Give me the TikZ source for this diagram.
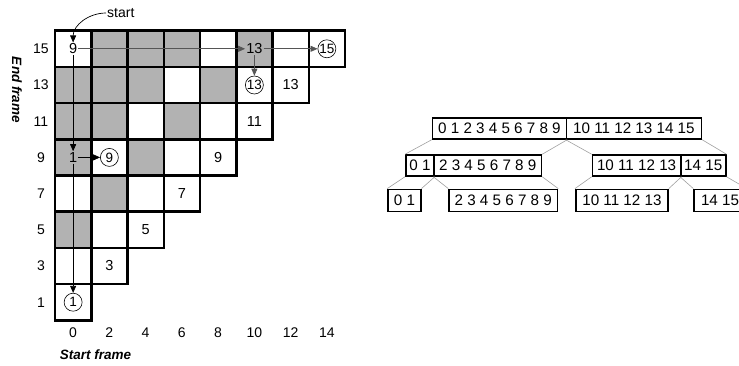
\documentclass[tikz,border=0pt]{standalone}
\usepackage{fontspec}
\setmainfont{Liberation Sans}
\usetikzlibrary{arrows.meta}
\definecolor{cellgray}{RGB}{178,178,178}
\definecolor{arrgray}{RGB}{85,85,85}
\definecolor{linkgray}{RGB}{160,160,160}
\begin{document}
\begin{tikzpicture}[x=1pt,y=-1pt,
  cell/.style={draw, line width=2.5pt, minimum width=36.25pt, minimum height=36.2pt, inner sep=0pt},
  num/.style={font=\fontsize{14.5}{16}\selectfont, inner sep=1pt},
  circ/.style={font=\fontsize{13.5}{15}\selectfont, draw, circle, line width=0.6pt, minimum size=18pt, inner sep=0pt},
  arr/.style={-{Triangle[length=7pt,width=6pt]}, line width=0.7pt},
  lbl/.style={font=\fontsize{14}{16}\selectfont},
  axislbl/.style={font=\fontsize{13.5}{15}\selectfont\bfseries\itshape},
  seg/.style={draw, line width=1.5pt, inner sep=0pt, anchor=west, font=\fontsize{15.2}{17}\selectfont},
  link/.style={draw=linkgray, line width=0.6pt}
]
\useasboundingbox (0,0) rectangle (739,365);

% shaded cells
\foreach \c/\r in {1/0,2/0,3/0,5/0,0/1,1/1,2/1,4/1,0/2,1/2,3/2,0/3,2/3,1/4,0/5}{
  \fill[cellgray] ({55+36.25*\c},{30.7+36.2*\r}) rectangle ++(36.25,36.2);
}
% cell grid
\foreach \r in {0,...,7}{
  \pgfmathtruncatemacro\cmax{7-\r}
  \foreach \c in {0,...,\cmax}{
    \node[cell] (cell-\c-\r) at ({55+36.25*(\c+0.5)},{30.7+36.2*(\r+0.5)}) {};
  }
}

% cell texts
\node[num] (n9) at (cell-0-0) {9};
\node[num] (n13a) at (cell-5-0) {13};
\node[circ] (c15) at (cell-7-0) {15};
\node[circ] (c13) at (cell-5-1) {13};
\node[num] (n13b) at (cell-6-1) {13};
\node[num] (n11) at (cell-5-2) {11};
\node[num] (n1) at (cell-0-3) {1};
\node[circ] (c9) at (cell-1-3) {9};
\node[num] (n9b) at (cell-4-3) {9};
\node[num] (n7) at (cell-3-4) {7};
\node[num] (n5) at (cell-2-5) {5};
\node[num] (n3) at (cell-1-6) {3};
\node[circ] (c1) at (cell-0-7) {1};

% path arrows
\draw[arr, draw=arrgray] (n9.east) -- (n13a.west);
\draw[arr, draw=arrgray] (n13a.east) -- (c15.west);
\draw[arr, draw=arrgray] (n13a.south) -- (c13.north);
\draw[arr] (n9.south) -- (n1.north);
\draw[arr] (n1.east) -- (c9.west);
\draw[arr] (n1.south) -- (c1.north);

% start label
\node[lbl, anchor=west, inner sep=1pt] (st) at (106,13) {start};
\draw[arr] (st.west) to[out=180,in=90] (n9.north);

% axis labels
\foreach \v [count=\i from 0] in {15,13,11,9,7,5,3,1}{
  \node[lbl] (row\v) at (41,{30.7+36.2*(\i+0.5)}) {\v};
}
\foreach \v [count=\i from 0] in {0,2,4,6,8,10,12,14}{
  \node[lbl] (col\v) at ({55+36.25*(\i+0.5)},333) {\v};
}
\node[axislbl, rotate=-90] (endf) at (17,90) {End frame};
\node[axislbl] (startf) at (95.5,355) {Start frame};

% tree
\node[seg, minimum width=134pt, minimum height=21pt] (ta) at (431.7,128.5) {0 1 2 3 4 5 6 7 8 9};
\node[seg, minimum width=135pt, minimum height=21pt] (tb) at (565.7,128.5) {10 11 12 13 14 15};

\node[seg, minimum width=28.3pt, minimum height=21pt] (la) at (405,165.5) {0 1};
\node[seg, minimum width=107.4pt, minimum height=21pt] (lb) at (433.3,165.5) {2 3 4 5 6 7 8 9};
\node[seg, minimum width=88.3pt, minimum height=21pt] (ra) at (591.7,165.5) {10 11 12 13};
\node[seg, minimum width=45pt, minimum height=21pt] (rb) at (680,165.5) {14 15};

\node[seg, minimum width=32.7pt, minimum height=22.4pt] (k1) at (387.3,200.5) {0 1};
\node[seg, minimum width=108.4pt, minimum height=22.4pt] (k2) at (448.3,200.5) {2 3 4 5 6 7 8 9};
\node[seg, minimum width=92.3pt, minimum height=22.4pt] (k3) at (575,200.5) {10 11 12 13};
\node[seg, minimum width=52pt, minimum height=22.4pt] (k4) at (693.3,200.5) {14 15};

\draw[link] (ta.south west) -- (la.north west);
\draw[link] (ta.south east) -- (lb.north east);
\draw[link] (tb.south west) -- (ra.north west);
\draw[link] (tb.south east) -- (rb.north east);
\draw[link] (la.south west) -- (k1.north west);
\draw[link] (la.south east) -- (k1.north east);
\draw[link] (lb.south west) -- (k2.north west);
\draw[link] (lb.south east) -- (k2.north east);
\draw[link] (ra.south west) -- (k3.north west);
\draw[link] (ra.south east) -- (k3.north east);
\draw[link] (rb.south west) -- (k4.north west);
\draw[link] (rb.south east) -- (k4.north east);
\end{tikzpicture}
\end{document}
